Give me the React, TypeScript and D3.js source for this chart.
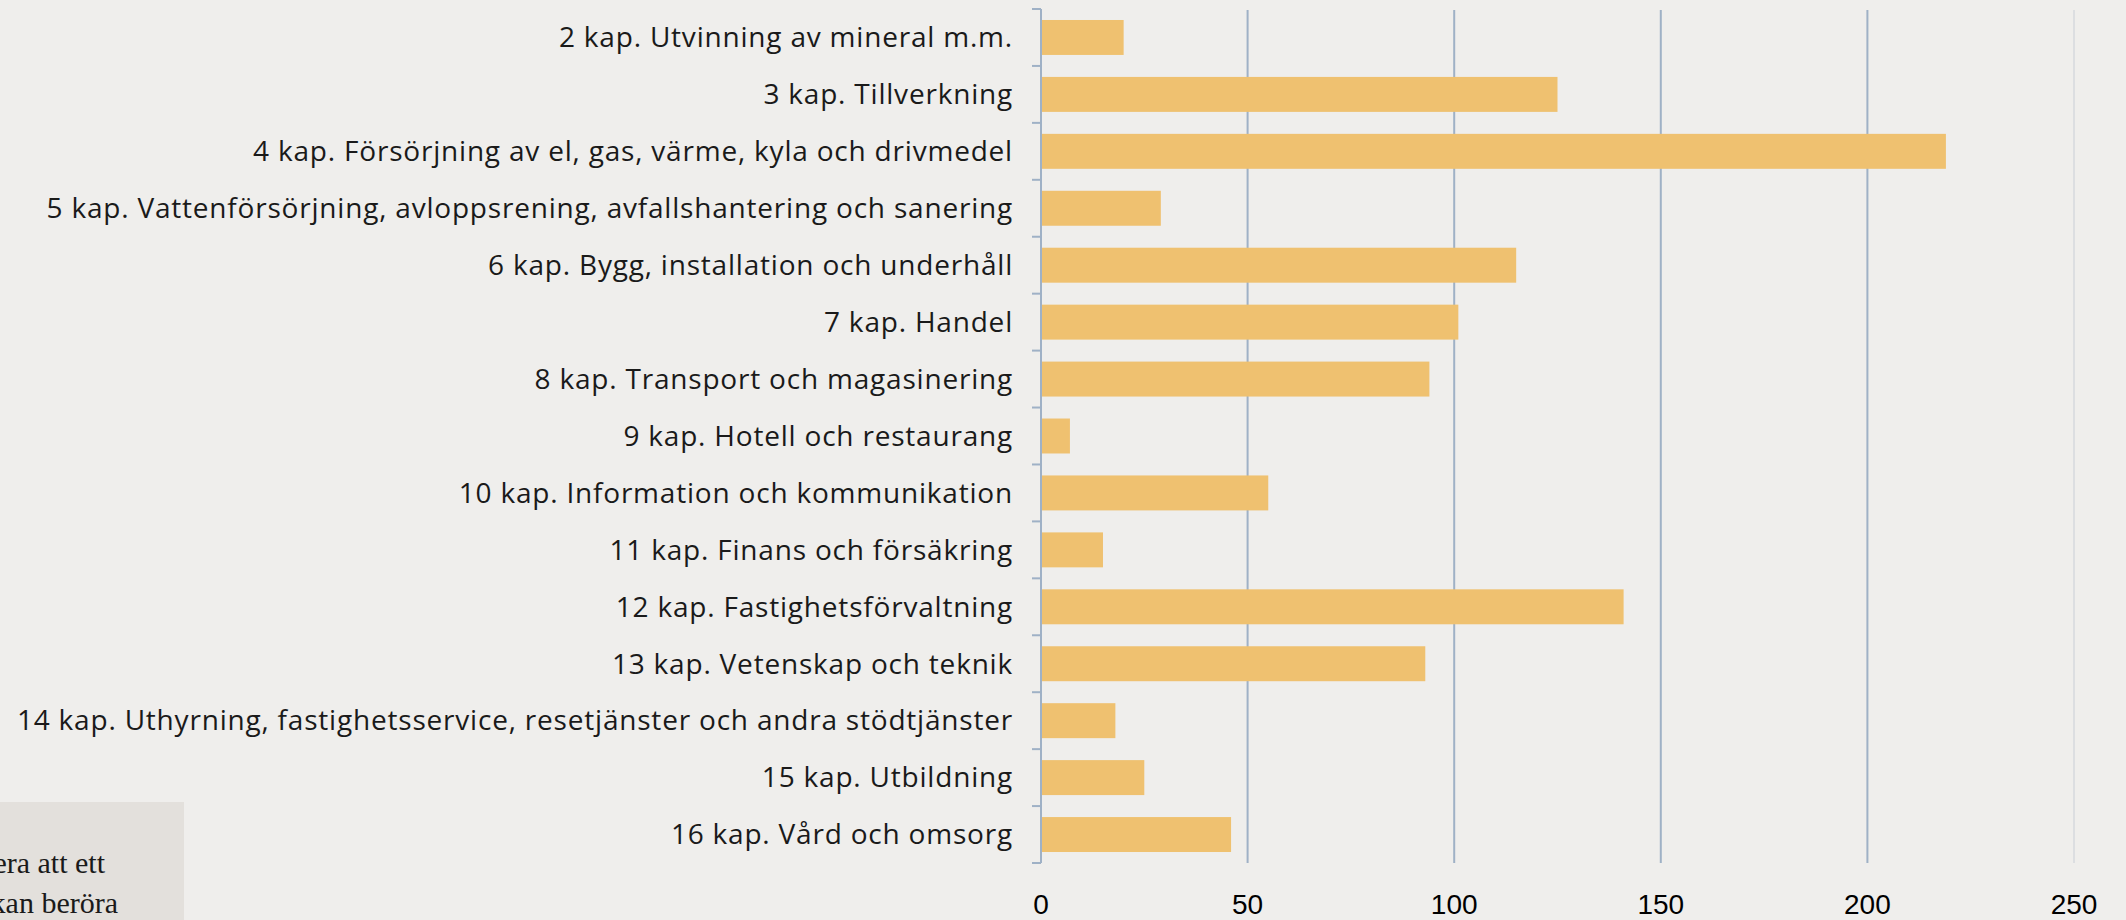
import React from "react";
import * as d3 from "d3";

const categories = [
  "2 kap. Utvinning av mineral m.m.",
  "3 kap. Tillverkning",
  "4 kap. Försörjning av el, gas, värme, kyla och drivmedel",
  "5 kap. Vattenförsörjning, avloppsrening, avfallshantering och sanering",
  "6 kap. Bygg, installation och underhåll",
  "7 kap. Handel",
  "8 kap. Transport och magasinering",
  "9 kap. Hotell och restaurang",
  "10 kap. Information och kommunikation",
  "11 kap. Finans och försäkring",
  "12 kap. Fastighetsförvaltning",
  "13 kap. Vetenskap och teknik",
  "14 kap. Uthyrning, fastighetsservice, resetjänster och andra stödtjänster",
  "15 kap. Utbildning",
  "16 kap. Vård och omsorg",
];

const values = [20, 125, 219, 29, 115, 101, 94, 7, 55, 15, 141, 93, 18, 25, 46];

const xTicks = [0, 50, 100, 150, 200, 250];

const noteLines = ["notera att ett", "företag kan beröra"];

const W = 2126;
const H = 920;
const M = { left: 1041, right: 52, top: 9, bottom: 57 };

export default function App() {
  const x = d3.scaleLinear().domain([0, 250]).range([M.left, W - M.right]);
  const y = d3
    .scaleBand<string>()
    .domain(categories)
    .range([M.top, H - M.bottom])
    .paddingInner(0.386)
    .paddingOuter(0.193);
  const step = y.step();
  const axisColor = "#9fb1c6";
  const labelFont = "'Open Sans', 'Noto Sans', sans-serif";

  return (
    <svg
      width={W}
      height={H}
      style={{ position: "absolute", left: 0, top: 0, display: "block" }}
    >
      <rect x={0} y={0} width={W} height={H} fill="#efeeec" />
      {/* note box */}
      <rect x={0} y={802} width={184} height={H - 802} fill="#e3e0dc" />
      {noteLines.map((t, i) => (
        <text
          key={t}
          x={i === 0 ? 105 : 118}
          y={873 + i * 40}
          textAnchor="end"
          fontFamily="'Liberation Serif', 'DejaVu Serif', serif"
          fontSize={30}
          fill="#1a1a1a"
        >
          {t}
        </text>
      ))}
      {/* gridlines */}
      {xTicks.slice(1).map((t) => (
        <line
          key={t}
          x1={x(t)}
          x2={x(t)}
          y1={M.top + 1}
          y2={H - M.bottom}
          stroke={t === 250 ? "#d6d8de" : axisColor}
          strokeWidth={t === 250 ? 1.5 : 2}
        />
      ))}
      {/* bars */}
      {categories.map((c, i) => (
        <rect
          key={c}
          x={x(0) + 1}
          y={y(c)!}
          width={x(values[i]) - x(0) - 1}
          height={y.bandwidth()}
          fill="#efc170"
        />
      ))}
      {/* category axis */}
      <line
        x1={x(0)}
        x2={x(0)}
        y1={M.top}
        y2={H - M.bottom}
        stroke={axisColor}
        strokeWidth={2}
      />
      {d3.range(categories.length + 1).map((i) => (
        <line
          key={i}
          x1={x(0) - 9}
          x2={x(0)}
          y1={M.top + i * step}
          y2={M.top + i * step}
          stroke={axisColor}
          strokeWidth={2}
        />
      ))}
      {categories.map((c) => (
        <text
          key={c}
          x={1013}
          y={y(c)! + y.bandwidth() / 2}
          dy="0.35em"
          textAnchor="end"
          fontFamily={labelFont}
          fontWeight={400}
          fontSize={28}
          letterSpacing={0.8}
          fill="#1a1a1a"
        >
          {c}
        </text>
      ))}
      {/* value axis labels */}
      {xTicks.map((t) => (
        <text
          key={t}
          x={x(t)}
          y={914}
          textAnchor="middle"
          fontFamily="'Liberation Sans', Arial, sans-serif"
          fontSize={28}
          fill="#000"
        >
          {t}
        </text>
      ))}
    </svg>
  );
}
